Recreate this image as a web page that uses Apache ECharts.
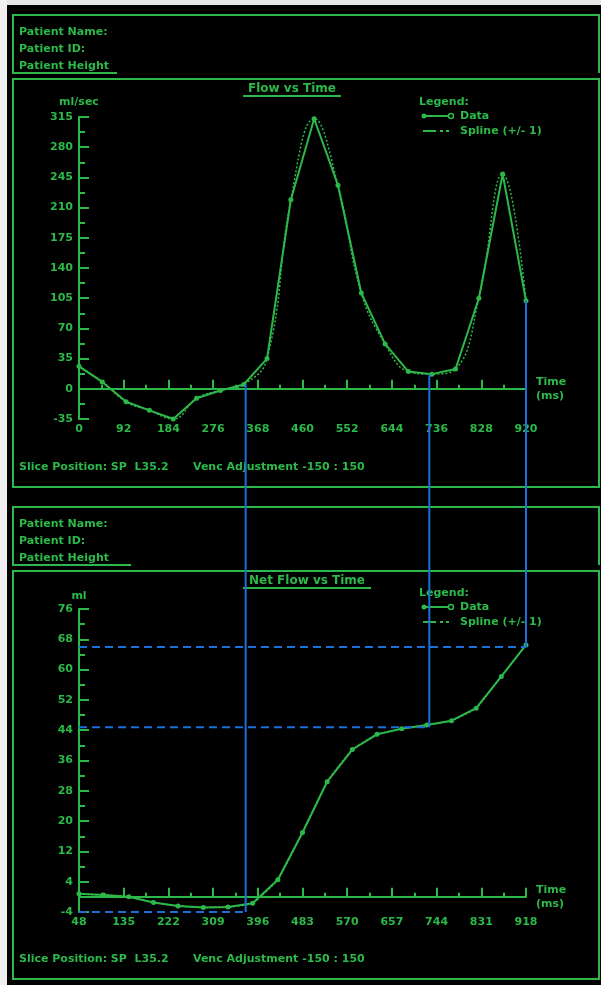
<!DOCTYPE html>
<html>
<head>
<meta charset="utf-8">
<script src="https://cdn.jsdelivr.net/npm/echarts@6/dist/echarts.min.js"></script>
<style>
html,body{margin:0;padding:0;background:#000;}
#c{width:601px;height:985px;}
</style>
</head>
<body>
<div id="c"></div>
<script>
// ---- Data: Flow vs Time ----
const flowTimes  = [0, 48, 97, 145, 194, 242, 291, 339, 387, 436, 484, 533, 581, 630, 678, 726, 775, 823, 872, 920];
const flowValues = [26, 8, -15, -25, -35, -11, -2, 5, 35, 219, 313, 236, 111, 52, 20, 17, 23, 105, 249, 102];
const flowXTicks = [0, 92, 184, 276, 368, 460, 552, 644, 736, 828, 920];
const flowYTicks = [-35, 0, 35, 70, 105, 140, 175, 210, 245, 280, 315];

// ---- Data: Net Flow vs Time ----
const netTimes  = [48, 96, 145, 193, 241, 290, 338, 386, 435, 483, 531, 580, 628, 676, 725, 773, 821, 870, 918];
const netValues = [0.8, 0.5, 0, -1.5, -2.4, -2.8, -2.7, -1.7, 4.5, 17, 30.4, 38.9, 42.9, 44.4, 45.4, 46.5, 49.8, 58.2, 66.5];
const netXTicks = [48, 135, 222, 309, 396, 483, 570, 657, 744, 831, 918];
const netYTicks = [-4, 4, 12, 20, 28, 36, 44, 52, 60, 68, 76];

// ---- Guide (blue) lines ----
const guideTimes      = [343, 721, 920];
const guideFlowStart  = [5, 17, 102];
const guideNetLevels  = [-4, 44.8, 66];

// ---- Texts ----
const headerLines = ['Patient Name:', 'Patient ID:', 'Patient Height'];
const footerLeft  = 'Slice Position: SP  L35.2';
const footerRight = 'Venc Adjustment -150 : 150';

const G = '#2cb94a';
const B = '#1e6fd9';
const FONT = '"DejaVu Sans", Verdana, sans-serif';

const chart = echarts.init(document.getElementById('c'), null, {renderer: 'canvas'});

function xAxisCfg(gridIndex, ticks) {
  return {
    type: 'value', gridIndex: gridIndex,
    min: ticks[0], max: ticks[ticks.length - 1], interval: ticks[1] - ticks[0],
    name: 'Time\n(ms)', nameLocation: 'end', nameGap: 10,
    nameTextStyle: {color: G, fontFamily: FONT, fontWeight: 'bold', fontSize: 11, lineHeight: 14, align: 'left', verticalAlign: 'middle'},
    axisLine: {show: true, onZero: true, lineStyle: {color: G, width: 2}},
    axisTick: {show: true, inside: true, length: 9, lineStyle: {color: G, width: 2}},
    minorTick: {show: true, splitNumber: 2, length: 4, lineStyle: {color: G, width: 2}},
    splitLine: {show: false}, minorSplitLine: {show: false},
    axisLabel: {show: true, color: G, fontFamily: FONT, fontWeight: 'bold', fontSize: 11, margin: 5, showMinLabel: true, showMaxLabel: true}
  };
}
function yAxisCfg(gridIndex, ticks, name, gap) {
  return {
    type: 'value', gridIndex: gridIndex,
    min: ticks[0], max: ticks[ticks.length - 1], interval: ticks[1] - ticks[0],
    name: name, nameLocation: 'end', nameGap: gap,
    nameTextStyle: {color: G, fontFamily: FONT, fontWeight: 'bold', fontSize: 11, align: 'center'},
    axisLine: {show: true, onZero: false, lineStyle: {color: G, width: 2}},
    axisTick: {show: true, inside: true, length: 10, lineStyle: {color: G, width: 2}},
    minorTick: {show: true, splitNumber: 2, length: 6, lineStyle: {color: G, width: 2}},
    splitLine: {show: false}, minorSplitLine: {show: false},
    axisLabel: {show: true, color: G, fontFamily: FONT, fontWeight: 'bold', fontSize: 11, margin: 6, showMinLabel: true, showMaxLabel: true}
  };
}
function dataSeries(name, xi, times, values) {
  return {
    name: name, type: 'line', xAxisIndex: xi, yAxisIndex: xi,
    data: times.map((t, i) => [t, values[i]]),
    symbol: 'circle', symbolSize: 5, showSymbol: true,
    lineStyle: {color: G, width: 2}, itemStyle: {color: G},
    z: 3, silent: true
  };
}
function splineSeries(name, xi, times, values, smooth) {
  return {
    name: name, type: 'line', xAxisIndex: xi, yAxisIndex: xi,
    data: times.map((t, i) => [t, values[i]]),
    smooth: smooth, symbol: 'none',
    lineStyle: {color: G, width: 1.5, type: [2, 2]},
    z: 2, silent: true
  };
}

function txt(x, y, text, size, extra) {
  return Object.assign({
    type: 'text', x: x, y: y, silent: true,
    style: {text: text, fill: G, fontFamily: FONT, fontWeight: 'bold', fontSize: size || 11, align: 'left', verticalAlign: 'middle'}
  }, extra || {});
}
function ln(x1, y1, x2, y2, w, dash) {
  return {type: 'line', silent: true, shape: {x1: x1, y1: y1, x2: x2, y2: y2},
          style: {stroke: G, lineWidth: w || 2, lineDash: dash || null}};
}
function legend(y0) {
  return [
    txt(419, y0, 'Legend:'),
    ln(424, y0 + 14, 450, y0 + 14, 2),
    {type: 'circle', silent: true, shape: {cx: 424, cy: y0 + 14, r: 2.5}, style: {fill: G}},
    {type: 'circle', silent: true, shape: {cx: 451, cy: y0 + 14, r: 2.5}, style: {fill: '#000', stroke: G, lineWidth: 1.5}},
    txt(460, y0 + 14, 'Data'),
    ln(423, y0 + 29, 436, y0 + 29, 2),
    ln(440, y0 + 29, 443, y0 + 29, 2),
    ln(446, y0 + 29, 449, y0 + 29, 2),
    txt(460, y0 + 29, 'Spline (+/- 1)')
  ];
}
function section(top, chartTop, chartBottom, title, titleY, titleX1, titleX2, headerRight) {
  const els = [];
  els.push({type: 'polyline', silent: true,
    shape: {points: [[headerRight, top + 58], [13, top + 58], [13, top], [599, top], [599, top + 58]]},
    style: {stroke: G, lineWidth: 2, fill: null}});
  headerLines.forEach((h, i) => els.push(txt(19, top + 17 + i * 17, h)));
  els.push({type: 'rect', silent: true, shape: {x: 13, y: chartTop, width: 586, height: chartBottom - chartTop},
    style: {stroke: G, lineWidth: 2, fill: null}});
  els.push(txt((titleX1 + titleX2) / 2, titleY, title, 12, {style: {text: title, fill: G, fontFamily: FONT, fontWeight: 'bold', fontSize: 12, align: 'center', verticalAlign: 'middle'}}));
  els.push(ln(titleX1, titleY + 7, titleX2, titleY + 7, 2));
  els.push(txt(19, chartBottom - 20, footerLeft));
  els.push(txt(193, chartBottom - 20, footerRight));
  return els;
}

const decor = [].concat(
  [{type: 'rect', silent: true, shape: {x: 0, y: 0, width: 601, height: 5}, style: {fill: '#e6e6e6'}},
   {type: 'rect', silent: true, shape: {x: 0, y: 0, width: 7, height: 985}, style: {fill: '#f0f0f0'}}],
  section(15, 79, 487, 'Flow vs Time', 89, 243, 341, 117),
  legend(102),
  section(507, 571, 979, 'Net Flow vs Time', 581, 243, 371, 131),
  legend(593)
);

const option = {
  backgroundColor: '#000',
  animation: false,
  grid: [
    {left: 79, right: 75, top: 117, bottom: 566, containLabel: false},
    {left: 79, right: 75, top: 609, bottom: 73, containLabel: false}
  ],
  xAxis: [xAxisCfg(0, flowXTicks), xAxisCfg(1, netXTicks)],
  yAxis: [yAxisCfg(0, flowYTicks, 'ml/sec', 9), yAxisCfg(1, netYTicks, 'ml', 7)],
  series: [
    splineSeries('Spline (+/- 1)', 0, flowTimes, flowValues, 0.45),
    dataSeries('Data', 0, flowTimes, flowValues),
    splineSeries('Spline (+/- 1) ', 1, netTimes, netValues, 0.12),
    dataSeries('Data ', 1, netTimes, netValues)
  ],
  graphic: decor
};
chart.setOption(option);

// Blue guide lines computed through the axes
const blue = [];
const leftX = chart.convertToPixel({xAxisIndex: 1}, netXTicks[0]);
guideTimes.forEach((t, i) => {
  const p = chart.convertToPixel({xAxisIndex: 0, yAxisIndex: 0}, [t, guideFlowStart[i]]);
  const yb = chart.convertToPixel({yAxisIndex: 1}, guideNetLevels[i]);
  blue.push({type: 'line', silent: true, z: 100, shape: {x1: p[0], y1: p[1], x2: p[0], y2: yb}, style: {stroke: B, lineWidth: 2}});
  blue.push({type: 'line', silent: true, z: 100, shape: {x1: leftX, y1: yb, x2: p[0], y2: yb}, style: {stroke: B, lineWidth: 2, lineDash: [8, 5]}});
});
chart.setOption({graphic: decor.concat(blue)});
</script>
</body>
</html>
